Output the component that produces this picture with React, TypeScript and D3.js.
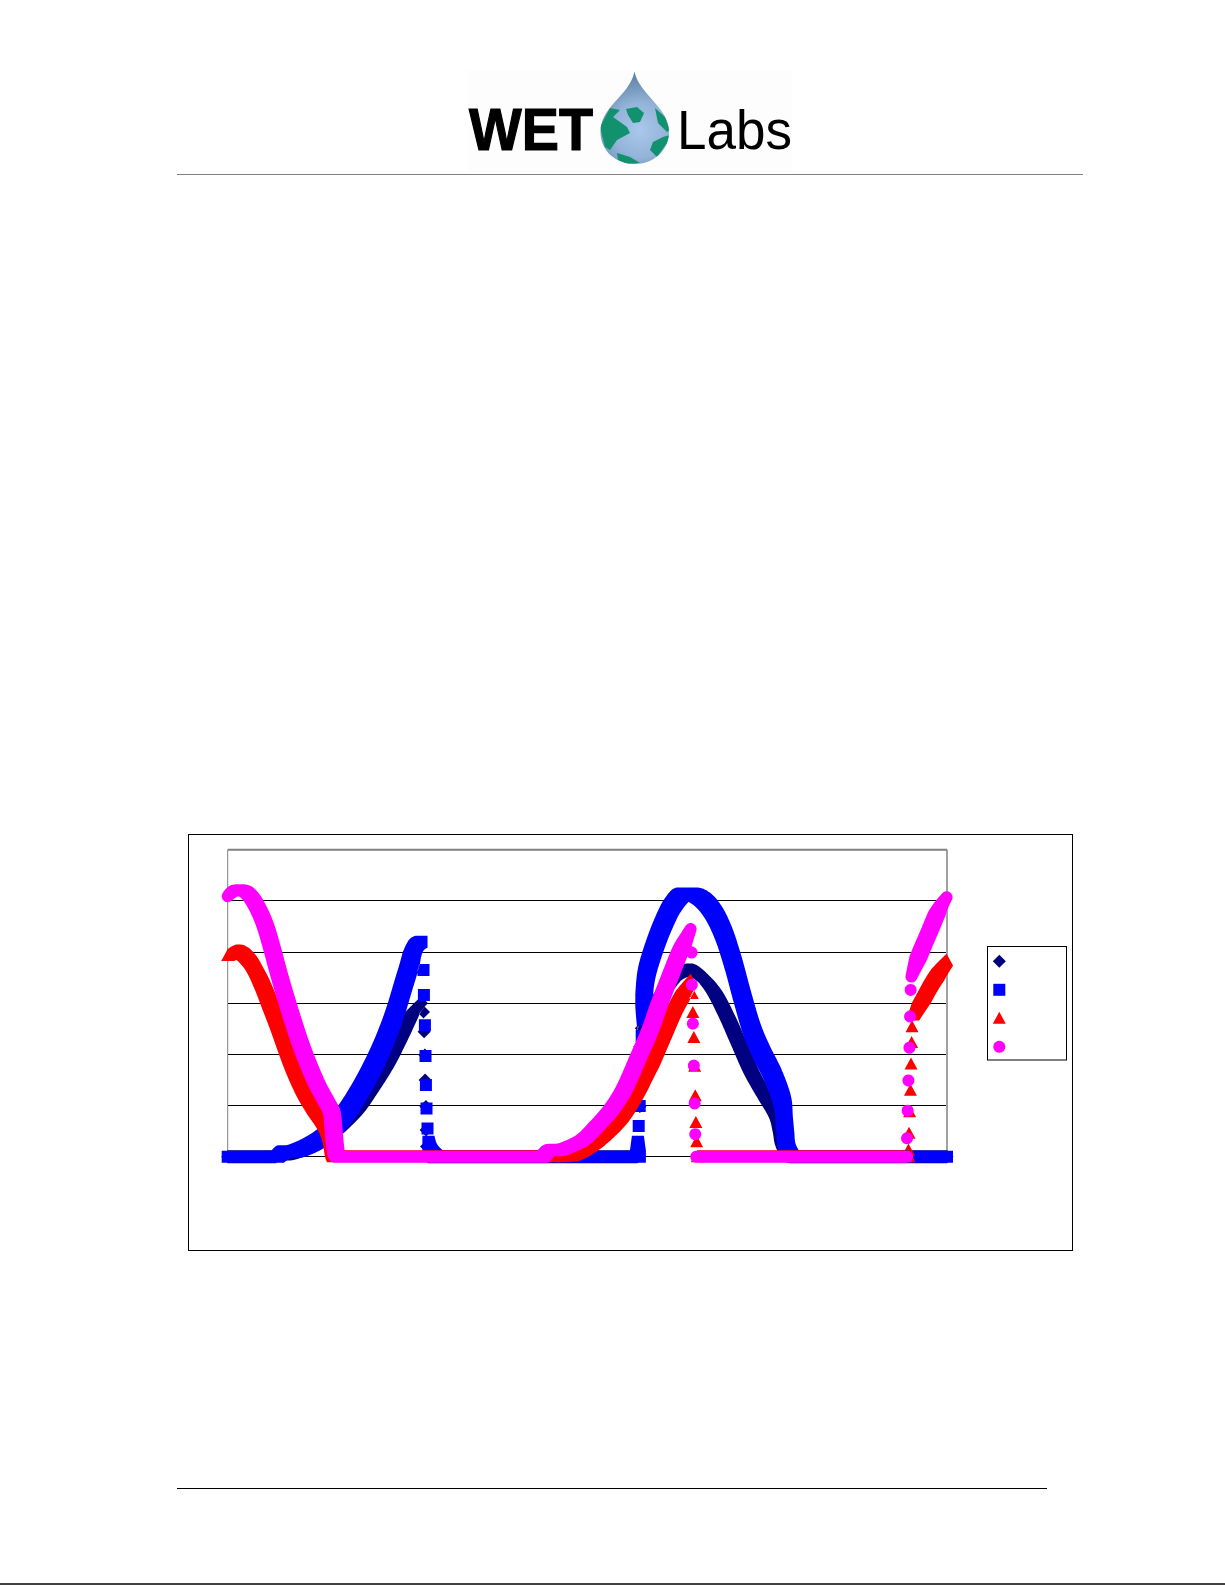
import React from "react";
import * as d3 from "d3";

type Pt = [number, number];

const gridTicks = [0, 1, 2, 3, 4, 5];

// Each series: runs of readings that merge into a band, and isolated readings on the steep edges.
const navyBands: Pt[][] = [
  [[0, 0], [24, 0], [24.5, 0.03], [32.8, 0.07], [42.8, 0.23], [52.8, 0.46], [62.8, 0.81], [71.2, 1.27], [79.5, 1.79], [86.2, 2.31], [92.8, 2.83], [97, 3.0]],
  [[100.3, 0], [205, 0]],
  [[207.8, 2.44], [212.8, 2.9], [219.5, 3.29], [226.2, 3.58], [231.2, 3.65], [236.2, 3.55], [242.8, 3.26], [249.5, 2.77], [256.2, 2.18], [262.8, 1.6], [269.5, 1.14], [275.3, 0.75], [277, 0.49], [278.7, 0.13], [281.2, 0], [360, 0]],
];
const navyDots: Pt[] = [[98, 2.83], [98.3, 2.44], [98.7, 1.99], [98.8, 1.5], [99.2, 0.98], [99.3, 0.52], [99.5, 0.2], [206.3, 0.98], [206.2, 2.15], [207, 2.51]];

const blueBands: Pt[][] = [
  [[0, 0], [25, 0], [28.2, 0.1], [32.8, 0.1], [42.8, 0.26], [51.2, 0.49], [59.5, 0.88], [67.8, 1.4], [76.2, 2.05], [82.8, 2.7], [89.5, 3.55], [94.5, 4.14], [97, 4.2]],
  [[100.5, 0.29], [101.2, 0.13], [103.7, 0], [205.3, 0], [205.3, 0.29]],
  [[207.8, 2.67], [208.2, 3.03], [209.5, 3.55], [212.8, 4.01], [217.8, 4.53], [222.8, 4.92], [227.8, 5.13], [232.8, 5.13], [237.8, 5.02], [242.8, 4.79], [247.8, 4.4], [252.8, 3.81], [257.8, 3.09], [262.8, 2.44], [267.8, 1.99], [272.8, 1.6], [277.8, 1.04], [278.7, 0.62], [280.3, 0.16], [282.8, 0], [360, 0]],
];
const blueDots: Pt[] = [[98, 3.65], [98.2, 3.16], [98.7, 2.57], [99, 1.97], [99.2, 1.4], [99.5, 0.94], [100, 0.55], [205.7, 0.6], [206.2, 0.99], [207.2, 2.36]];

const redBands: Pt[][] = [
  [[0, 3.93], [2.8, 3.99], [5.8, 4.02], [9.5, 3.94], [13.7, 3.75], [17.8, 3.42], [22, 3.0], [26.2, 2.57], [30.3, 2.12], [34.5, 1.69], [39.5, 1.27], [44.5, 0.94], [49.5, 0.65], [52, 0.42], [53.7, 0.07], [54.5, 0], [161.2, 0], [171.2, 0.03], [179.5, 0.2], [187.8, 0.46], [196.2, 0.81], [204.5, 1.34], [207.8, 1.6], [211.2, 1.86], [216.2, 2.31], [224.5, 3.03], [231.7, 3.45]],
  [[235, 0], [341, 0]],
  [[342.8, 2.77], [347.8, 3.16], [352.8, 3.49], [357.8, 3.75], [359.8, 3.84]],
];
const redDots: Pt[] = [[232.5, 3.19], [232.8, 2.82], [233.3, 2.33], [233.7, 1.77], [234, 1.19], [234.3, 0.67], [234.7, 0.29], [340.7, 0.13], [341, 0.46], [341.3, 0.88], [341.7, 1.3], [342, 1.81], [342.3, 2.23], [342.5, 2.54]];

const magentaBands: Pt[][] = [
  [[0, 5.09], [2.8, 5.19], [5.8, 5.21], [9, 5.18], [12, 5.06], [15.3, 4.84], [18.7, 4.53], [22, 4.1], [25.3, 3.62], [28.7, 3.16], [32.8, 2.64], [37, 2.15], [41.2, 1.73], [45.3, 1.37], [49.5, 1.07], [52, 0.88], [52.8, 0.62], [53.7, 0.23], [54.5, 0.03], [55, 0], [157.8, 0], [161.2, 0.13], [166.2, 0.13], [171.2, 0.2], [177.8, 0.33], [184.5, 0.59], [191.2, 0.88], [197.8, 1.27], [206.2, 2.0], [211.2, 2.45], [216.2, 3.0], [221.2, 3.5], [226.2, 3.99], [231.7, 4.45]],
  [[234.5, 0], [340, 0]],
  [[342.2, 3.52], [346.2, 3.94], [351.2, 4.4], [356.2, 4.85], [359.8, 5.07]],
];
const magentaDots: Pt[] = [[232.2, 3.99], [232.3, 3.36], [232.8, 2.6], [233.3, 1.78], [233.7, 1.04], [234, 0.44], [340, 0.36], [340.3, 0.9], [340.7, 1.49], [341.2, 2.13], [341.5, 2.74], [341.8, 3.26]];

type Shape = "diamond" | "square" | "triangle" | "circle";
const seriesList: { shape: Shape; color: string; bands: Pt[][]; dots: Pt[]; spread: number }[] = [
  { shape: "diamond", color: "#000080", bands: navyBands, dots: navyDots, spread: 2 },
  { shape: "square", color: "#0000ff", bands: blueBands, dots: blueDots, spread: 2.5 },
  { shape: "triangle", color: "#ff0000", bands: redBands, dots: redDots, spread: 3 },
  { shape: "circle", color: "#ff00ff", bands: magentaBands, dots: magentaDots, spread: 3 },
];

const x = d3.scaleLinear().domain([0, 360]).range([227.7, 947]);
const y = d3.scaleLinear().domain([0, 6]).range([1156.7, 849.7]);

function outline(shape: Shape, cx: number, cy: number): Pt[] {
  if (shape === "square") return [[cx - 6, cy - 6], [cx + 6, cy - 6], [cx + 6, cy + 6], [cx - 6, cy + 6]];
  if (shape === "diamond") return [[cx, cy - 6.5], [cx + 6.5, cy], [cx, cy + 6.5], [cx - 6.5, cy]];
  if (shape === "triangle") return [[cx, cy - 6.5], [cx + 6.5, cy + 5.5], [cx - 6.5, cy + 5.5]];
  return d3.range(20).map((i) => {
    const a = (i / 20) * 2 * Math.PI;
    return [cx + 6 * Math.cos(a), cy + 6 * Math.sin(a)] as Pt;
  });
}
const ring = (p: Pt[]) => "M" + p.map((q) => q[0].toFixed(2) + "," + q[1].toFixed(2)).join("L") + "Z";

// Smooth centre line through a band's readings, traced at a fixed pixel step.
// Long zero-valued stretches stay straight, so the curve cannot bow around them.
const centre = d3.line<Pt>().x((d) => x(d[0])).y((d) => y(d[1])).curve(d3.curveCatmullRom.alpha(0.5));
function traceRun(run: Pt[]): Pt[] {
  if (run.length < 2) return run.map((d) => [x(d[0]), y(d[1])] as Pt);
  const el = document.createElementNS("http://www.w3.org/2000/svg", "path");
  el.setAttribute("d", centre(run) || "");
  const len = el.getTotalLength();
  const n = Math.max(1, Math.ceil(len / 2));
  return d3.range(n + 1).map((i) => {
    const p = el.getPointAtLength((i / n) * len);
    return [p.x, p.y] as Pt;
  });
}
function trace(band: Pt[]): Pt[] {
  const out: Pt[] = [];
  let run: Pt[] = [band[0]];
  for (let i = 1; i < band.length; i++) {
    if (band[i][0] - band[i - 1][0] >= 20) {
      out.push(...traceRun(run));
      run = [band[i]];
    } else run.push(band[i]);
  }
  out.push(...traceRun(run));
  return out;
}

function seriesPath(shape: Shape, bands: Pt[][], dots: Pt[], spread: number) {
  let d = "";
  for (const band of bands) {
    const pts = trace(band);
    const last = pts.length - 1;
    const stamp = (p: Pt, i: number) => {
      // the overlapping markers fan out sideways along a band, less so at its ends
      const w = spread * Math.min(1, Math.min(i, last - i) / 10);
      return [...outline(shape, p[0] - w, p[1]), ...outline(shape, p[0] + w, p[1])];
    };
    for (let i = 0; i < last; i++) {
      const hull = d3.polygonHull([...stamp(pts[i], i), ...stamp(pts[i + 1], i + 1)]);
      if (hull) d += ring(hull);
    }
  }
  for (const p of dots) d += ring(outline(shape, x(p[0]), y(p[1])));
  return d;
}

const legendRows = seriesList.map((s, i) => ({ ...s, cy: 961.3 + i * 28.5 }));

function Logo() {
  const drop = "M634.500,71.5 C637,84 646,92 655,103 C664,113 669,121 669,132 C669,151 653,164 635,164 C616,164 600.500,151 600.500,132 C600.500,120 606,112 614,103 C623,93 632,84 634.500,71.5 Z";
  return (
    <g>
      <rect x={468} y={70} width={324} height={102} fill="#fdfdfd" />
      <defs>
        <radialGradient id="dropFill" gradientUnits="userSpaceOnUse" cx={640} cy={130} r={55}>
          <stop offset="0" stopColor="#a9c8ea" />
          <stop offset="0.5" stopColor="#93b3d8" />
          <stop offset="1" stopColor="#5f82a6" />
        </radialGradient>
        <clipPath id="dropClip"><path d={drop} /></clipPath>
      </defs>
      <text x={469} y={150} fontFamily="Liberation Sans" fontWeight="bold" fontSize={60} textLength={124} lengthAdjust="spacingAndGlyphs" fill="#000" stroke="#000" strokeWidth={1.2}>WET</text>
      <path d={drop} fill="url(#dropFill)" />
      <g clipPath="url(#dropClip)" fill="#12916f">
        <path d="M600,127 L610,108 L620,110 L613,117 L627,127 L630,133 L617,140 L610,150 L605,147 Z" />
        <path d="M626,109 L637,107 L644,113 L640,122 L633,123 L628,115 Z" />
        <path d="M655,108 L665,117 L670,130 L667,132 L658,123 Z" />
        <path d="M670,135 L667,143 L657,157 L650,150 L653,142 L663,137 Z" />
        <path d="M617,153 L630,157 L640,163 L627,164 L618,160 Z" />
      </g>
      <text x={677} y={149} fontFamily="Liberation Sans" fontSize={55} textLength={115} lengthAdjust="spacingAndGlyphs" fill="#000">Labs</text>
    </g>
  );
}

export default function App() {
  return (
    <svg width={1225} height={1585} style={{ position: "absolute", left: 0, top: 0, display: "block", background: "#fff" }}>
      <Logo />
      <line x1={177} x2={1083} y1={174.5} y2={174.5} stroke="#808080" strokeWidth={1} />
      <line x1={177} x2={1047} y1={1488.5} y2={1488.5} stroke="#000" strokeWidth={1} />
      <line x1={0} x2={1225} y1={1584} y2={1584} stroke="#000" strokeWidth={1.500} />

      <rect x={188.5} y={834.5} width={884} height={416} fill="#fff" stroke="#000" strokeWidth={1} />

      <line x1={x(0)} x2={x(360)} y1={y(6)} y2={y(6)} stroke="#808080" strokeWidth={2} />
      <line x1={x(0)} x2={x(0)} y1={y(6)} y2={y(0)} stroke="#808080" strokeWidth={1} />
      <line x1={x(360)} x2={x(360)} y1={y(6)} y2={y(0)} stroke="#808080" strokeWidth={1.500} />
      {gridTicks.map((t) => (
        <line key={t} x1={x(0)} x2={x(360) - 1} y1={y(t)} y2={y(t)} stroke="#000" strokeWidth={1} shapeRendering="crispEdges" />
      ))}

      {seriesList.map((s) => (
        <path key={s.shape} d={seriesPath(s.shape, s.bands, s.dots, s.spread)} fill={s.color} />
      ))}

      <rect x={987.5} y={946.5} width={79} height={113.500} fill="#fff" stroke="#000" strokeWidth={1} />
      {legendRows.map((r) => (
        <path key={r.shape} d={ring(outline(r.shape, 999.3, r.cy))} fill={r.color} />
      ))}
    </svg>
  );
}
